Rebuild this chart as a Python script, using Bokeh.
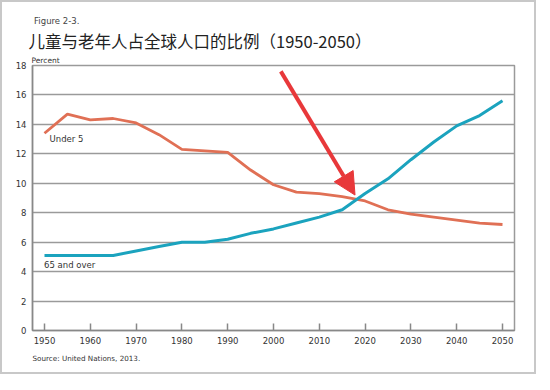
from bokeh.plotting import figure
from bokeh.models import Label, Arrow, NormalHead, FixedTicker, Range1d, Title
from bokeh.embed import file_html
from bokeh.resources import INLINE

years = [1950, 1955, 1960, 1965, 1970, 1975, 1980, 1985, 1990, 1995, 2000,
         2005, 2010, 2015, 2020, 2025, 2030, 2035, 2040, 2045, 2050]
under5 = [13.4, 14.7, 14.3, 14.4, 14.1, 13.3, 12.3, 12.2, 12.1, 10.9, 9.9,
          9.4, 9.3, 9.1, 8.8, 8.2, 7.9, 7.7, 7.5, 7.3, 7.2]
over65 = [5.1, 5.1, 5.1, 5.1, 5.4, 5.7, 6.0, 6.0, 6.2, 6.6, 6.9,
          7.3, 7.7, 8.2, 9.3, 10.3, 11.6, 12.8, 13.9, 14.6, 15.6]
x_ticks = [1950, 1960, 1970, 1980, 1990, 2000, 2010, 2020, 2030, 2040, 2050]
y_ticks = [0, 2, 4, 6, 8, 10, 12, 14, 16, 18]
arrow_start = (2001.6, 17.6)
arrow_end = (2017.8, 9.2)

figure_label = "Figure 2-3."
title_text = "儿童与老年人占全球人口的比例（1950-2050）"
y_unit = "Percent"
source_text = "Source: United Nations, 2013."
series_names = ["Under 5", "65 and over"]

FONT = "DejaVu Sans"
GRID = "#9a9a9a"
TXT = "#333333"

p = figure(width=536, height=374, output_backend="svg", toolbar_location=None,
           x_range=Range1d(1947.38, 2052.62), y_range=Range1d(0, 18),
           min_border_left=30, min_border_right=24, min_border_top=63,
           min_border_bottom=46, title=None)
p.styles = {"border": "2px solid #c8c8c8"}
p.background_fill_color = "white"
p.border_fill_color = "white"
p.outline_line_color = GRID
p.outline_line_width = 1.5

p.xgrid.grid_line_color = None
p.ygrid.grid_line_color = GRID
p.ygrid.grid_line_width = 1.5
p.ygrid.ticker = FixedTicker(ticks=y_ticks)

p.xaxis.ticker = FixedTicker(ticks=x_ticks)
p.yaxis.ticker = FixedTicker(ticks=y_ticks)
for ax in (p.xaxis, p.yaxis):
    ax.axis_line_color = "#888888"
    ax.axis_line_width = 1.5
    ax.major_label_text_font = FONT
    ax.major_label_text_font_size = "8.5px"
    ax.major_label_text_color = TXT
    ax.minor_tick_line_color = None
    ax.minor_tick_in = 0
    ax.minor_tick_out = 0
    ax.major_label_standoff = 6
p.xaxis.major_tick_in = 7
p.xaxis.major_tick_out = 0
p.xaxis.major_tick_line_color = "#888888"
p.xaxis.major_tick_line_width = 1.5
p.yaxis.major_tick_line_color = None
p.yaxis.major_tick_in = 0
p.yaxis.major_tick_out = 0

p.line(years, under5, line_color="#E07055", line_width=2.8)
p.line(years, over65, line_color="#1BA3BE", line_width=3)

p.add_layout(Arrow(end=NormalHead(size=22, fill_color="#E8383A", line_color="#E8383A"),
                   x_start=arrow_start[0], y_start=arrow_start[1],
                   x_end=arrow_end[0], y_end=arrow_end[1],
                   line_color="#E8383A", line_width=4))

def lab(x, y, text, size):
    p.add_layout(Label(x=x, y=y, text=text, text_font=FONT, text_font_size=size,
                       text_color=TXT, text_baseline="middle", text_align="left"))

lab(1951.1, 13.0, series_names[0], "8.5px")
lab(1949.9, 4.42, series_names[1], "8.5px")

def ttl(text, size, place, standoff, offset, color=TXT, font=FONT, lh=1.2):
    p.add_layout(Title(text=text, text_font=font, text_font_size=size,
                       text_color=color, text_font_style="normal", align="left",
                       standoff=standoff, offset=offset, text_line_height=lh), place)

ttl(y_unit, "7.5px", "above", 2, -1)
ttl(title_text, "16.5px", "above", 0, -4, color="#222222", font="Noto Sans CJK SC", lh=1.0)
ttl(figure_label, "8.5px", "above", 2, 1.6, color="#444444")
ttl(source_text, "7.2px", "below", 11, 0)

open("out.html", "w").write(file_html(p, INLINE))
